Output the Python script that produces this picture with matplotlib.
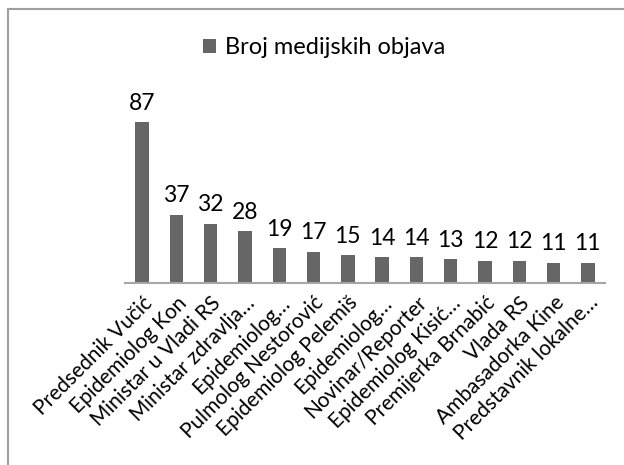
import matplotlib
matplotlib.use("Agg")
import matplotlib.pyplot as plt
from matplotlib.lines import Line2D

categories = ["Predsednik Vučić", "Epidemiolog Kon", "Ministar u Vladi RS",
              "Ministar zdravlja…", "Epidemiolog…", "Pulmolog Nestorović",
              "Epidemiolog Pelemiš", "Epidemiolog…", "Novinar/Reporter",
              "Epidemiolog Kisić…", "Premijerka Brnabić", "Vlada RS",
              "Ambasadorka Kine", "Predstavnik lokalne…"]
values = [87, 37, 32, 28, 19, 17, 15, 14, 14, 13, 12, 12, 11, 11]
series_name = "Broj medijskih objava"

plt.rcParams['font.family'] = ['Lato', 'DejaVu Sans']
W, H = 624, 465
fig = plt.figure(figsize=(W/100, H/100), dpi=100)
ax = fig.add_axes([125/W, 1-283/H, 480/W, 185/H])

bar_color = "#666666"
x = list(range(len(categories)))
bars = ax.bar(x, values, width=0.39, color=bar_color, label=series_name, zorder=2)
ax.set_xlim(-0.5, len(categories)-0.5)
ax.set_ylim(0, 100)
for xi, v in zip(x, values):
    ax.annotate(str(v), (xi, v), xytext=(0, 6), textcoords="offset points",
                ha="center", va="bottom", fontsize=16.5, color="#000000")

for s in ["top", "right", "left"]:
    ax.spines[s].set_visible(False)
ax.spines["bottom"].set_color("#a6a6a6")
ax.spines["bottom"].set_linewidth(1.5)
ax.set_yticks([])
ax.set_xticks(x)
ax.set_xticklabels(categories, rotation=45, ha="right", va="top",
                   rotation_mode="anchor", fontsize=15)
ax.tick_params(axis="x", length=0, pad=7)

leg = fig.legend(handles=[bars], labels=[series_name], loc="center",
                 bbox_to_anchor=(324/W, 1-48/H), frameon=False, fontsize=17,
                 handlelength=0.55, handleheight=0.55, handletextpad=0.4)

# chart border (top and left visible)
fig.add_artist(Line2D([7.5/W, 7.5/W], [0, 1-9/H], color="#a0a0a0", lw=1.5,
                      transform=fig.transFigure))
fig.add_artist(Line2D([7.5/W, 1], [1-9/H, 1-9/H], color="#a0a0a0", lw=1.5,
                      transform=fig.transFigure))

fig.savefig("out.png", dpi=100, facecolor="white")
